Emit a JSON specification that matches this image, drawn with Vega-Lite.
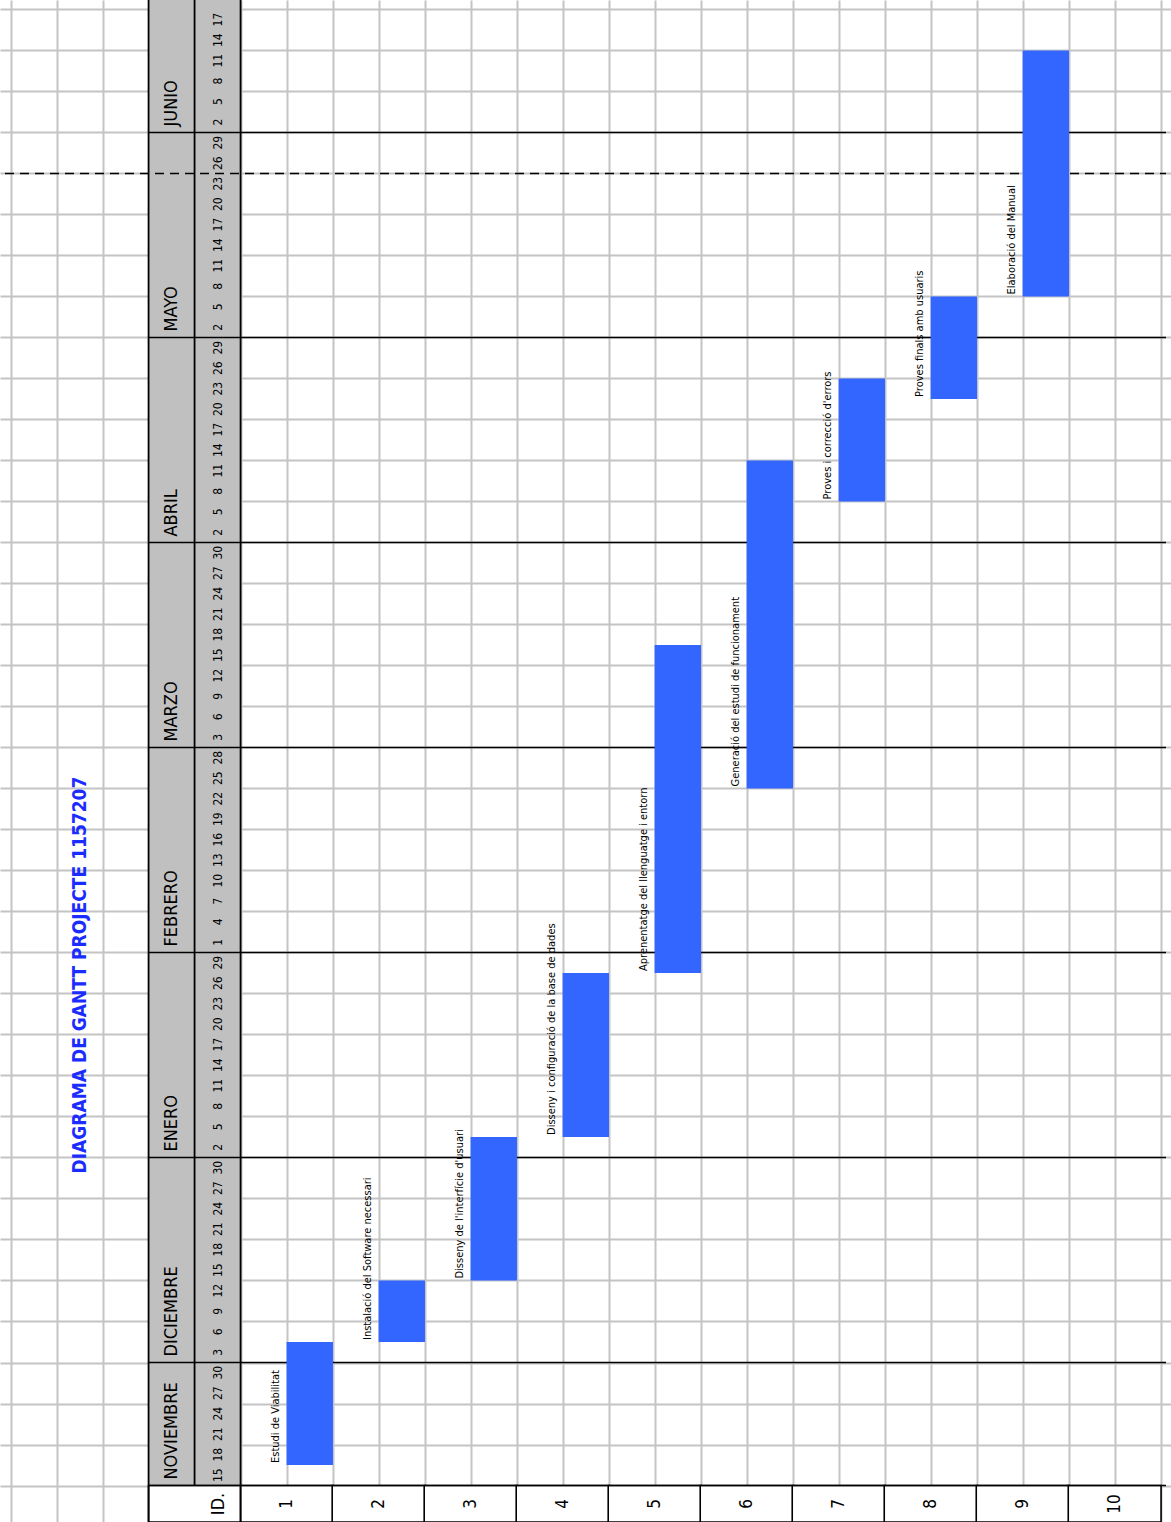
{
  "$schema": "https://vega.github.io/schema/vega-lite/v6.json",
  "width": 1171,
  "height": 1522,
  "autosize": {"type": "none"},
  "padding": 0,
  "background": "white",
  "config": {
    "view": {"stroke": null},
    "text": {"font": "DejaVu Sans Condensed, Liberation Sans Narrow, sans-serif", "color": "#000000"}
  },
  "datasets": {
    "tasks": [
      {"id": 1, "label": "Estudi de Viabilitat", "start": 1, "end": 7},
      {"id": 2, "label": "Instalació del Software necessari", "start": 7, "end": 10},
      {"id": 3, "label": "Disseny de l'interfície d'usuari", "start": 10, "end": 17},
      {"id": 4, "label": "Disseny i configuració de la base de dades", "start": 17, "end": 25},
      {"id": 5, "label": "Aprenentatge del llenguatge i entorn", "start": 25, "end": 41},
      {"id": 6, "label": "Generació del estudi de funcionament", "start": 34, "end": 50},
      {"id": 7, "label": "Proves i correcció d'errors", "start": 48, "end": 54},
      {"id": 8, "label": "Proves finals amb usuaris", "start": 53, "end": 58},
      {"id": 9, "label": "Elaboració del Manual", "start": 58, "end": 70}
    ],
    "ids": [
      {"id": 1}, {"id": 2}, {"id": 3}, {"id": 4}, {"id": 5},
      {"id": 6}, {"id": 7}, {"id": 8}, {"id": 9}, {"id": 10}
    ],
    "months": [
      {"month": "NOVIEMBRE", "start": 0},
      {"month": "DICIEMBRE", "start": 6},
      {"month": "ENERO", "start": 16},
      {"month": "FEBRERO", "start": 26},
      {"month": "MARZO", "start": 36},
      {"month": "ABRIL", "start": 46},
      {"month": "MAYO", "start": 56},
      {"month": "JUNIO", "start": 66}
    ],
    "days": [
      {"slot": 0, "day": 15}, {"slot": 1, "day": 18}, {"slot": 2, "day": 21}, {"slot": 3, "day": 24}, {"slot": 4, "day": 27}, {"slot": 5, "day": 30},
      {"slot": 6, "day": 3}, {"slot": 7, "day": 6}, {"slot": 8, "day": 9}, {"slot": 9, "day": 12}, {"slot": 10, "day": 15}, {"slot": 11, "day": 18}, {"slot": 12, "day": 21}, {"slot": 13, "day": 24}, {"slot": 14, "day": 27}, {"slot": 15, "day": 30},
      {"slot": 16, "day": 2}, {"slot": 17, "day": 5}, {"slot": 18, "day": 8}, {"slot": 19, "day": 11}, {"slot": 20, "day": 14}, {"slot": 21, "day": 17}, {"slot": 22, "day": 20}, {"slot": 23, "day": 23}, {"slot": 24, "day": 26}, {"slot": 25, "day": 29},
      {"slot": 26, "day": 1}, {"slot": 27, "day": 4}, {"slot": 28, "day": 7}, {"slot": 29, "day": 10}, {"slot": 30, "day": 13}, {"slot": 31, "day": 16}, {"slot": 32, "day": 19}, {"slot": 33, "day": 22}, {"slot": 34, "day": 25}, {"slot": 35, "day": 28},
      {"slot": 36, "day": 3}, {"slot": 37, "day": 6}, {"slot": 38, "day": 9}, {"slot": 39, "day": 12}, {"slot": 40, "day": 15}, {"slot": 41, "day": 18}, {"slot": 42, "day": 21}, {"slot": 43, "day": 24}, {"slot": 44, "day": 27}, {"slot": 45, "day": 30},
      {"slot": 46, "day": 2}, {"slot": 47, "day": 5}, {"slot": 48, "day": 8}, {"slot": 49, "day": 11}, {"slot": 50, "day": 14}, {"slot": 51, "day": 17}, {"slot": 52, "day": 20}, {"slot": 53, "day": 23}, {"slot": 54, "day": 26}, {"slot": 55, "day": 29},
      {"slot": 56, "day": 2}, {"slot": 57, "day": 5}, {"slot": 58, "day": 8}, {"slot": 59, "day": 11}, {"slot": 60, "day": 14}, {"slot": 61, "day": 17}, {"slot": 62, "day": 20}, {"slot": 63, "day": 23}, {"slot": 64, "day": 26}, {"slot": 65, "day": 29},
      {"slot": 66, "day": 2}, {"slot": 67, "day": 5}, {"slot": 68, "day": 8}, {"slot": 69, "day": 11}, {"slot": 70, "day": 14}, {"slot": 71, "day": 17}
    ]
  },
  "layer": [
    {
      "data": {"values": [{}]},
      "mark": {"type": "rect", "fill": "#c0c0c0"},
      "encoding": {
        "x": {
          "datum": -0.5, "type": "quantitative",
          "scale": {"domain": [-2.0603, 10.558], "nice": false, "zero": false},
          "axis": {"values": [-2, -1.5, -1, -0.5, 0, 0.5, 1, 1.5, 2, 2.5, 3, 3.5, 4, 4.5, 5, 5.5, 6, 6.5, 7, 7.5, 8, 8.5, 9, 9.5, 10, 10.5],
                   "grid": true, "gridColor": "#c4c4c4", "gridWidth": 2, "labels": false, "ticks": false, "domain": false, "title": null}
        },
        "x2": {"datum": 0.5},
        "y": {
          "datum": 0, "type": "quantitative",
          "scale": {"domain": [-1.78, 72.46], "nice": false, "zero": false},
          "axis": {"values": [0,1,2,3,4,5,6,7,8,9,10,11,12,13,14,15,16,17,18,19,20,21,22,23,24,25,26,27,28,29,30,31,32,33,34,35,36,37,38,39,40,41,42,43,44,45,46,47,48,49,50,51,52,53,54,55,56,57,58,59,60,61,62,63,64,65,66,67,68,69,70,71,72],
                   "grid": true, "gridColor": "#c4c4c4", "gridWidth": 2, "labels": false, "ticks": false, "domain": false, "title": null}
        },
        "y2": {"datum": 72.46}
      }
    },
    {
      "data": {"name": "ids"},
      "mark": {"type": "bar", "width": 92.8, "fill": "white", "stroke": "#000000", "strokeWidth": 1.6},
      "encoding": {
        "x": {"field": "id", "type": "quantitative"},
        "y": {"datum": -1.78},
        "y2": {"datum": 0}
      }
    },
    {
      "data": {"values": [{}]},
      "mark": {"type": "rect", "fill": "white", "stroke": "#000000", "strokeWidth": 1.6},
      "encoding": {
        "x": {"datum": -0.5},
        "x2": {"datum": 0.5},
        "y": {"datum": -1.78},
        "y2": {"datum": 0}
      }
    },
    {
      "data": {"values": [{"u": -0.5, "lo": -1.78}, {"u": 0, "lo": 0}, {"u": 0.5, "lo": -1.78}]},
      "mark": {"type": "rule", "color": "#000000", "strokeWidth": 1.8},
      "encoding": {
        "x": {"field": "u", "type": "quantitative"},
        "y": {"field": "lo", "type": "quantitative"},
        "y2": {"datum": 72.46}
      }
    },
    {
      "data": {"name": "months"},
      "mark": {"type": "rule", "color": "#000000", "strokeWidth": 1.4},
      "encoding": {
        "y": {"field": "start", "type": "quantitative"},
        "x": {"datum": -0.5},
        "x2": {"datum": 10.558}
      }
    },
    {
      "data": {"values": [{}]},
      "mark": {"type": "rule", "color": "#000000", "strokeWidth": 1.4, "strokeDash": [9, 6]},
      "encoding": {
        "y": {"datum": 64},
        "x": {"datum": -2.0603},
        "x2": {"datum": 10.558}
      }
    },
    {
      "data": {"name": "tasks"},
      "mark": {"type": "bar", "width": 46.4, "xOffset": 23.2, "fill": "#3366ff"},
      "encoding": {
        "x": {"field": "id", "type": "quantitative"},
        "y": {"field": "start", "type": "quantitative"},
        "y2": {"field": "end"}
      }
    },
    {
      "data": {"name": "tasks"},
      "mark": {"type": "text", "angle": 270, "align": "left", "baseline": "alphabetic", "dx": 2, "dy": -8, "fontSize": 11},
      "encoding": {
        "x": {"field": "id", "type": "quantitative"},
        "y": {"field": "start", "type": "quantitative"},
        "text": {"field": "label"}
      }
    },
    {
      "data": {"name": "months"},
      "mark": {"type": "text", "angle": 270, "align": "left", "baseline": "middle", "dx": 6, "fontSize": 18},
      "encoding": {
        "x": {"datum": -0.25},
        "y": {"field": "start", "type": "quantitative"},
        "text": {"field": "month"}
      }
    },
    {
      "data": {"name": "days"},
      "mark": {"type": "text", "angle": 270, "align": "center", "baseline": "middle", "dx": 10.25, "fontSize": 12},
      "encoding": {
        "x": {"datum": 0.25},
        "y": {"field": "slot", "type": "quantitative"},
        "text": {"field": "day"}
      }
    },
    {
      "data": {"name": "ids"},
      "mark": {"type": "text", "angle": 270, "align": "center", "baseline": "middle", "fontSize": 17},
      "encoding": {
        "x": {"field": "id", "type": "quantitative"},
        "y": {"datum": -0.9},
        "text": {"field": "id"}
      }
    },
    {
      "data": {"values": [{}]},
      "mark": {"type": "text", "angle": 270, "align": "center", "baseline": "middle", "fontSize": 18},
      "encoding": {
        "x": {"datum": 0.27},
        "y": {"datum": -0.9},
        "text": {"value": "ID."}
      }
    },
    {
      "data": {"values": [{}]},
      "mark": {"type": "text", "angle": 270, "align": "center", "baseline": "middle", "fontSize": 19, "fontWeight": "bold", "color": "#1a2cff"},
      "encoding": {
        "x": {"datum": -1.25},
        "y": {"datum": 24.9},
        "text": {"value": "DIAGRAMA DE GANTT PROJECTE  1157207"}
      }
    }
  ]
}
